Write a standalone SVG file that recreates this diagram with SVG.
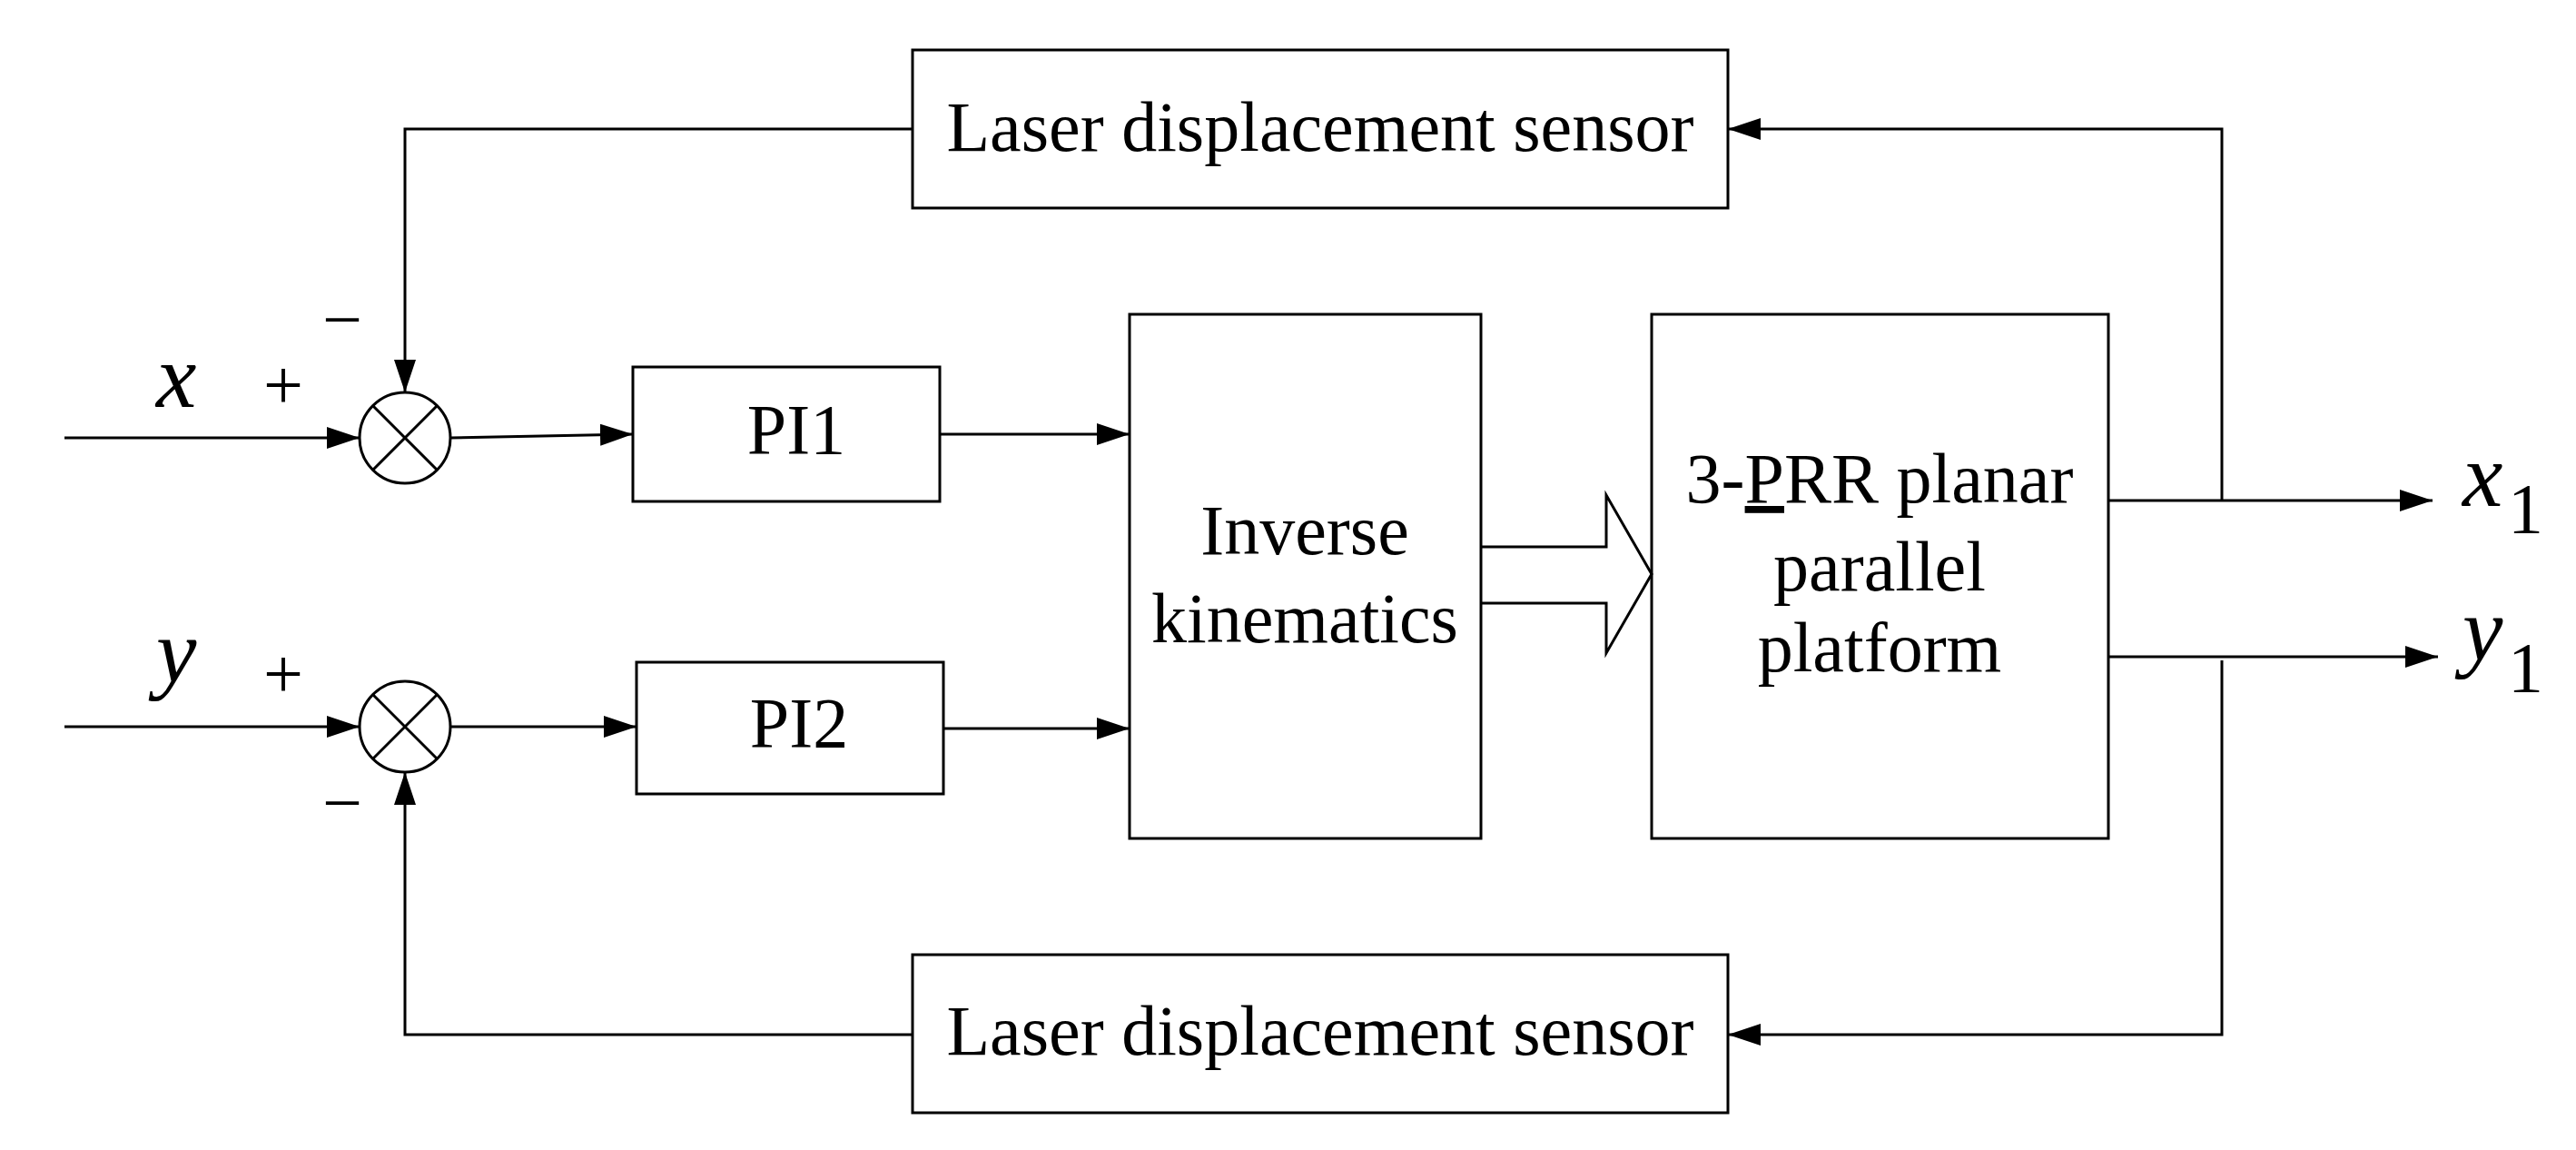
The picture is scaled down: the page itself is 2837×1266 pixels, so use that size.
<svg xmlns="http://www.w3.org/2000/svg" width="2837" height="1266" viewBox="0 0 2837 1266">
<style>
.b{fill:none;stroke:#000;stroke-width:3}
.c{fill:none;stroke:#000;stroke-width:3}
.t{font-family:"Liberation Serif",serif;font-size:78px;fill:#000}
.m{text-anchor:middle}
.i{font-family:"Liberation Serif",serif;font-style:italic;font-size:100px}
</style>
<defs><marker id="a" markerWidth="36" markerHeight="24" refX="36" refY="12" orient="auto" markerUnits="userSpaceOnUse"><path d="M0,0L36,12L0,24Z" fill="#000"/></marker></defs>
<rect width="2837" height="1266" fill="#fff"/>
<g id="sensor1"><rect class="b" x="1005" y="55" width="898" height="174"/><text class="t m" x="1454" y="166">Laser displacement sensor</text></g>
<g id="sensor2"><rect class="b" x="1005" y="1051" width="898" height="174"/><text class="t m" x="1454" y="1161">Laser displacement sensor</text></g>
<g id="sum1"><ellipse class="b" cx="446" cy="482" rx="50" ry="50"/><path class="b" d="M411,447L481,517M481,447L411,517"/></g>
<g id="sum2"><ellipse class="b" cx="446" cy="800" rx="50" ry="50"/><path class="b" d="M411,765L481,835M481,765L411,835"/></g>
<g id="pi1"><rect class="b" x="697" y="404" width="338" height="148"/><text class="t m" x="877" y="499">PI1</text></g>
<g id="pi2"><rect class="b" x="701" y="729" width="338" height="145"/><text class="t m" x="880" y="822">PI2</text></g>
<g id="ik"><rect class="b" x="1244" y="346" width="387" height="577"/><text class="t m" x="1437" y="610">Inverse</text><text class="t m" x="1437" y="707">kinematics</text></g>
<g id="platform"><rect class="b" x="1819" y="346" width="503" height="577"/><text class="t m" x="2070" y="553">3-<tspan text-decoration="underline">P</tspan>RR planar</text><text class="t m" x="2070" y="650">parallel</text><text class="t m" x="2070" y="739">platform</text></g>
<g id="labels">
<text class="i" x="172" y="448">x</text><text class="t" x="290" y="450">+</text><text class="t" x="355" y="378">−</text>
<text class="i" x="172" y="751">y</text><text class="t" x="290" y="768">+</text><text class="t" x="355" y="910">−</text>
<text class="i" x="2712" y="557">x</text><text class="t" x="2762" y="586">1</text>
<text class="i" x="2712" y="727">y</text><text class="t" x="2762" y="761">1</text>
</g>
<g id="connectors">
<path class="c" d="M71,482H396" marker-end="url(#a)"/>
<path class="c" d="M71,800H396" marker-end="url(#a)"/>
<path class="c" d="M1005,142H446V432" marker-end="url(#a)"/>
<path class="c" d="M1005,1139H446V850" marker-end="url(#a)"/>
<path class="c" d="M496,482L697,478" marker-end="url(#a)"/>
<path class="c" d="M496,800H701" marker-end="url(#a)"/>
<path class="c" d="M1035,478H1244" marker-end="url(#a)"/>
<path class="c" d="M1039,802H1244" marker-end="url(#a)"/>
<path class="c" d="M1631,602H1769V545L1819,632L1769,719V664H1631"/>
<path class="c" d="M2322,551H2679" marker-end="url(#a)"/>
<path class="c" d="M2322,723H2685" marker-end="url(#a)"/>
<path class="c" d="M2447,551V142H1903" marker-end="url(#a)"/>
<path class="c" d="M2447,727V1139H1903" marker-end="url(#a)"/>
</g>
</svg>
